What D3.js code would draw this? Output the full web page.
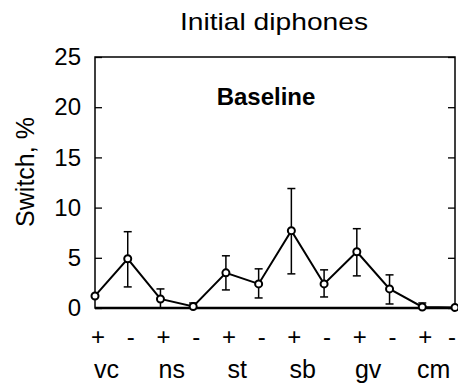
<!DOCTYPE html>
<html>
<head>
<meta charset="utf-8">
<script src="https://cdn.jsdelivr.net/npm/d3@7"></script>
<style>
  html, body { margin: 0; padding: 0; background: #fff; }
  svg { display: block; font-family: "Liberation Sans", Arial, Helvetica, sans-serif; }
</style>
</head>
<body>
<div id="chart"></div>
<script>
const categories = ["vc", "ns", "st", "sb", "gv", "cm"];
const signs = ["+", "-"];
const values = [1.2, 4.9, 0.9, 0.15, 3.5, 2.4, 7.7, 2.4, 5.6, 1.9, 0.1, 0.05];
const errLow = [1.2, 2.1, 0.0, 0.0, 1.8, 1.0, 3.4, 1.1, 3.2, 0.4, 0.0, 0.0];
const errHigh = [1.2, 7.6, 1.9, 0.5, 5.2, 3.9, 11.9, 3.8, 7.9, 3.3, 0.5, 0.3];
const yTicks = [0, 5, 10, 15, 20, 25];

const W = 458, H = 385;
const margin = { top: 57, right: 3, bottom: 77, left: 95 };
const innerW = 455 - margin.left;
const innerH = 308 - margin.top;

const points = [];
categories.forEach((c) => signs.forEach((s) => points.push({ cat: c, sign: s, key: c + s })));
points.forEach((p, i) => { p.v = values[i]; p.lo = errLow[i]; p.hi = errHigh[i]; });

const svg = d3.select("#chart").append("svg").attr("width", W).attr("height", H);
const g = svg.append("g").attr("transform", `translate(${margin.left},${margin.top})`);

const x = d3.scalePoint().domain(points.map((d) => d.key)).range([0, innerW]);
const y = d3.scaleLinear().domain([0, 25]).range([innerH, 0]);

// frame
g.append("rect").attr("width", innerW).attr("height", innerH)
  .attr("fill", "none").attr("stroke", "#000").attr("stroke-width", 1.5);
g.append("line").attr("x1", 0).attr("x2", innerW).attr("y1", innerH).attr("y2", innerH)
  .attr("stroke", "#000").attr("stroke-width", 2.5);

// left axis, ticks pointing inward
const yAxis = g.append("g")
  .call(d3.axisLeft(y).tickValues(yTicks).tickSize(-7).tickPadding(14).tickFormat(d3.format("d")));
yAxis.select(".domain").remove();
yAxis.selectAll(".tick line").attr("stroke-width", 1.3);
yAxis.selectAll("text").attr("font-size", 24).attr("fill", "#000")
  .attr("font-family", "Liberation Sans, Arial, sans-serif");

const yAxisR = g.append("g").attr("transform", `translate(${innerW},0)`)
  .call(d3.axisRight(y).tickValues(yTicks).tickSize(-7).tickFormat(""));
yAxisR.select(".domain").remove();
yAxisR.selectAll(".tick line").attr("stroke-width", 1.3);

// x labels
g.selectAll(".sign").data(points).join("text").attr("class", "sign")
  .attr("x", (d) => Math.min(x(d.key) + 3, innerW - 3)).attr("y", innerH + 37)
  .attr("text-anchor", "middle").attr("font-size", 24)
  .text((d) => d.sign);

g.selectAll(".cat").data(categories).join("text").attr("class", "cat")
  .attr("x", (c) => (x(c + "+") + x(c + "-")) / 2 - 5).attr("y", innerH + 70)
  .attr("text-anchor", "middle").attr("font-size", 25)
  .text((c) => c);

// error bars
const eb = g.selectAll(".eb").data(points.filter((d) => d.hi - d.lo > 0.3)).join("g").attr("class", "eb")
  .attr("stroke", "#000").attr("stroke-width", 1.5);
eb.append("line").attr("x1", (d) => x(d.key)).attr("x2", (d) => x(d.key))
  .attr("y1", (d) => y(d.lo)).attr("y2", (d) => y(d.hi));
eb.append("line").attr("x1", (d) => x(d.key) - 4).attr("x2", (d) => x(d.key) + 4)
  .attr("y1", (d) => y(d.hi)).attr("y2", (d) => y(d.hi));
eb.append("line").attr("x1", (d) => x(d.key) - 4).attr("x2", (d) => x(d.key) + 4)
  .attr("y1", (d) => y(d.lo)).attr("y2", (d) => y(d.lo));

// line
const line = d3.line().x((d) => x(d.key)).y((d) => y(d.v));
g.append("path").datum(points).attr("d", line)
  .attr("fill", "none").attr("stroke", "#000").attr("stroke-width", 2);

g.selectAll(".pt").data(points).join("circle").attr("class", "pt")
  .attr("cx", (d) => x(d.key)).attr("cy", (d) => y(d.v)).attr("r", 3.5)
  .attr("fill", "#fff").attr("stroke", "#000").attr("stroke-width", 2);

// titles
svg.append("text").attr("x", 274).attr("y", 30).attr("text-anchor", "middle")
  .attr("font-size", 24).attr("textLength", 188).attr("lengthAdjust", "spacingAndGlyphs")
  .text("Initial diphones");

g.append("text").attr("x", innerW / 2 - 9).attr("y", y(20) - 2).attr("text-anchor", "middle")
  .attr("font-size", 24).attr("font-weight", "bold")
  .text("Baseline");

svg.append("text").attr("transform", "translate(34,172) rotate(-90)")
  .attr("text-anchor", "middle").attr("font-size", 25)
  .text("Switch, %");
</script>
</body>
</html>
